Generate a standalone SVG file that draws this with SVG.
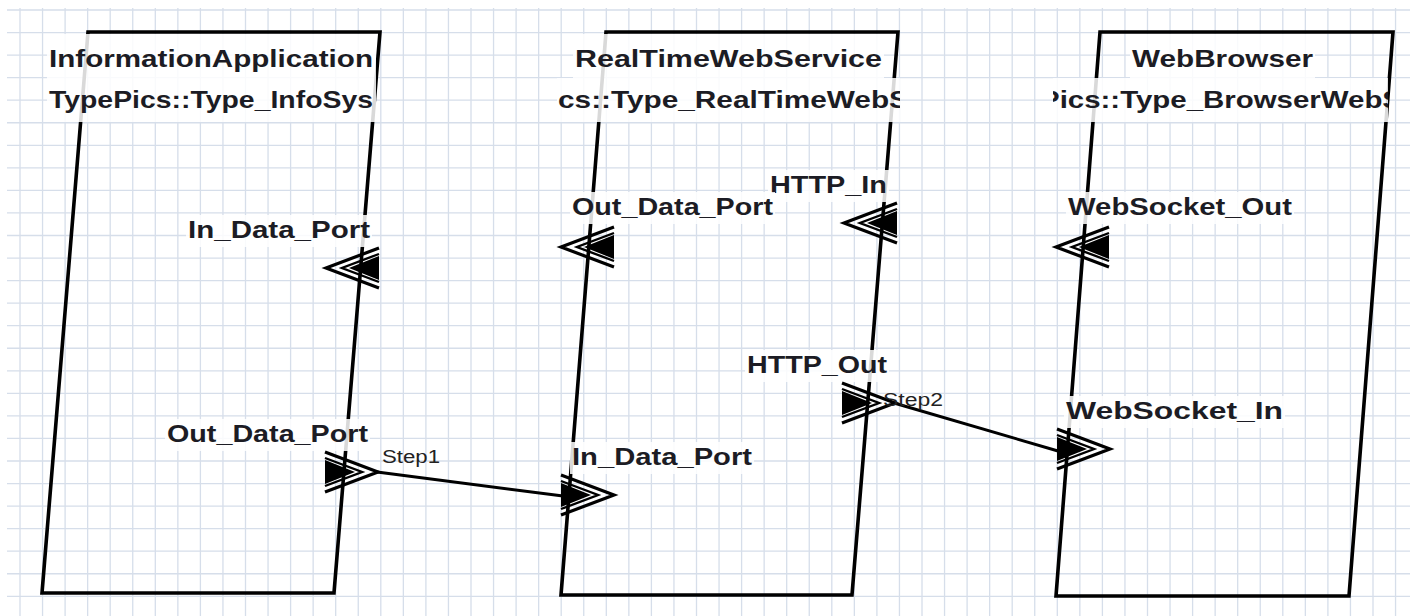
<svg xmlns="http://www.w3.org/2000/svg" width="1410" height="616" viewBox="0 0 1410 616">
<style>
.grid{stroke:#d6deea;stroke-width:1.3;fill:none}
.node{fill:none;stroke:#000;stroke-width:3.6;stroke-linejoin:miter}
.bg{fill:#fff;fill-opacity:0.85}
.t{font-family:"Liberation Sans",Arial,sans-serif;font-weight:bold;font-size:24px;fill:#1c1c24}
.s{font-family:"Liberation Sans",Arial,sans-serif;font-size:18px;fill:#222}
.conn{stroke:#000;stroke-width:3;fill:none}
</style>
<defs>
<g id="portR">
<polygon points="0,-12 30,0 0,12" fill="#000"/>
<polyline points="0,-14 37,0 0,14" fill="none" stroke="#000" stroke-width="2.4"/>
<polyline points="0,-20 53,0 0,20" fill="none" stroke="#000" stroke-width="3.2"/>
</g>
<clipPath id="c2"><rect x="557" y="78" width="343" height="45"/></clipPath>
<clipPath id="c3"><rect x="1053" y="78" width="335" height="45"/></clipPath>
</defs>
<rect x="0" y="0" width="1410" height="616" fill="#fff"/>
<g id="grid">
<path class="grid" d="M20 8V616M42.55 8V616M65.1 8V616M87.65 8V616M110.2 8V616M132.75 8V616M155.3 8V616M177.85 8V616M200.4 8V616M222.95 8V616M245.5 8V616M268.05 8V616M290.6 8V616M313.15 8V616M335.7 8V616M358.25 8V616M380.8 8V616M403.35 8V616M425.9 8V616M448.45 8V616M471 8V616M493.55 8V616M516.1 8V616M538.65 8V616M561.2 8V616M583.75 8V616M606.3 8V616M628.85 8V616M651.4 8V616M673.95 8V616M696.5 8V616M719.05 8V616M741.6 8V616M764.15 8V616M786.7 8V616M809.25 8V616M831.8 8V616M854.35 8V616M876.9 8V616M899.45 8V616M922 8V616M944.55 8V616M967.1 8V616M989.65 8V616M1012.2 8V616M1034.75 8V616M1057.3 8V616M1079.85 8V616M1102.4 8V616M1124.95 8V616M1147.5 8V616M1170.05 8V616M1192.6 8V616M1215.15 8V616M1237.7 8V616M1260.25 8V616M1282.8 8V616M1305.35 8V616M1327.9 8V616M1350.45 8V616M1373 8V616M1395.55 8V616"/>
<path class="grid" d="M7 10H1410M7 32.55H1410M7 55.1H1410M7 77.65H1410M7 100.2H1410M7 122.75H1410M7 145.3H1410M7 167.85H1410M7 190.4H1410M7 212.95H1410M7 235.5H1410M7 258.05H1410M7 280.6H1410M7 303.15H1410M7 325.7H1410M7 348.25H1410M7 370.8H1410M7 393.35H1410M7 415.9H1410M7 438.45H1410M7 461H1410M7 483.55H1410M7 506.1H1410M7 528.65H1410M7 551.2H1410M7 573.75H1410M7 596.3H1410"/>
</g>
<g id="node-InformationApplication">
<polygon class="node" points="88,32 380,32 334,593 42,593"/>
<rect class="bg" x="47" y="34" width="329" height="44"/>
<rect class="bg" x="47" y="78" width="329" height="44"/>
<text class="t" x="49" y="67" textLength="324" lengthAdjust="spacingAndGlyphs">InformationApplication</text>
<text class="t" x="49" y="108" textLength="324" lengthAdjust="spacingAndGlyphs">TypePics::Type_InfoSys</text>
<rect class="bg" x="186" y="215" width="186" height="32"/>
<text class="t" x="188" y="238" textLength="182" lengthAdjust="spacingAndGlyphs">In_Data_Port</text>
<rect class="bg" x="165" y="419" width="205" height="32"/>
<text class="t" x="167" y="442" textLength="201" lengthAdjust="spacingAndGlyphs">Out_Data_Port</text>
<use href="#portR" transform="translate(379,268) scale(-1,1)"/>
<use href="#portR" transform="translate(325,472)"/>
</g>
<g id="node-RealTimeWebService">
<polygon class="node" points="606,32 898,32 852,595 561,595"/>
<rect class="bg" x="573" y="34" width="311" height="44"/>
<rect class="bg" x="557" y="78" width="343" height="44"/>
<text class="t" x="575" y="67" textLength="307" lengthAdjust="spacingAndGlyphs">RealTimeWebService</text>
<text class="t" x="558" y="108" textLength="351" lengthAdjust="spacingAndGlyphs" clip-path="url(#c2)">cs::Type_RealTimeWebS</text>
<rect class="bg" x="768" y="170" width="121" height="32"/>
<text class="t" x="770" y="193" textLength="117" lengthAdjust="spacingAndGlyphs">HTTP_In</text>
<rect class="bg" x="570" y="192" width="205" height="32"/>
<text class="t" x="572" y="215" textLength="201" lengthAdjust="spacingAndGlyphs">Out_Data_Port</text>
<rect class="bg" x="745" y="350" width="144" height="32"/>
<text class="t" x="747" y="373" textLength="140" lengthAdjust="spacingAndGlyphs">HTTP_Out</text>
<rect class="bg" x="570" y="442" width="184" height="32"/>
<text class="t" x="572" y="465" textLength="180" lengthAdjust="spacingAndGlyphs">In_Data_Port</text>
<use href="#portR" transform="translate(614,247) scale(-1,1)"/>
<use href="#portR" transform="translate(897,223) scale(-1,1)"/>
<use href="#portR" transform="translate(561,495)"/>
<use href="#portR" transform="translate(842,403)"/>
</g>
<g id="node-WebBrowser">
<polygon class="node" points="1100,32 1393,32 1349,596 1056,596"/>
<rect class="bg" x="1130" y="34" width="185" height="44"/>
<rect class="bg" x="1053" y="78" width="335" height="44"/>
<text class="t" x="1132" y="67" textLength="181" lengthAdjust="spacingAndGlyphs">WebBrowser</text>
<text class="t" x="1040" y="108" textLength="362" lengthAdjust="spacingAndGlyphs" clip-path="url(#c3)">Pics::Type_BrowserWebS</text>
<rect class="bg" x="1066" y="192" width="228" height="32"/>
<text class="t" x="1068" y="215" textLength="224" lengthAdjust="spacingAndGlyphs">WebSocket_Out</text>
<rect class="bg" x="1064" y="396" width="221" height="32"/>
<text class="t" x="1066" y="419" textLength="217" lengthAdjust="spacingAndGlyphs">WebSocket_In</text>
<use href="#portR" transform="translate(1109,247) scale(-1,1)"/>
<use href="#portR" transform="translate(1057,449)"/>
</g>
<g id="connectors">
<line class="conn" x1="377" y1="472" x2="563" y2="496"/>
<text class="s" x="382" y="463" textLength="58" lengthAdjust="spacingAndGlyphs">Step1</text>
<line class="conn" x1="894" y1="403" x2="1058" y2="451"/>
<text class="s" x="883" y="406" textLength="60" lengthAdjust="spacingAndGlyphs">Step2</text>
</g>
</svg>
